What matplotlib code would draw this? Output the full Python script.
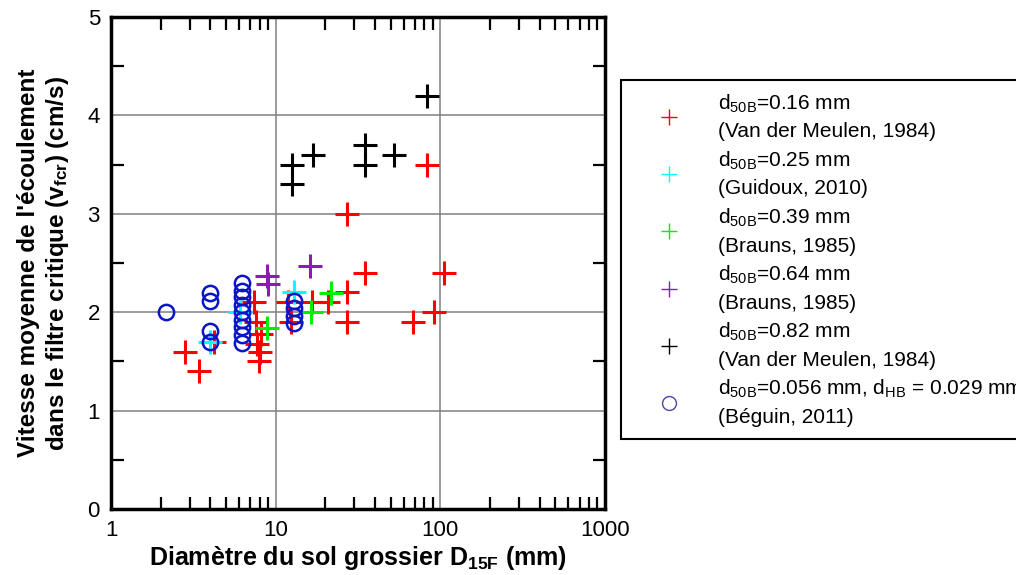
import matplotlib
matplotlib.use('Agg')
import matplotlib.pyplot as plt
from matplotlib.ticker import LogLocator, MultipleLocator, FixedLocator

plt.rcParams['font.family'] = ['Liberation Sans', 'DejaVu Sans']
plt.rcParams['mathtext.fontset'] = 'custom'
plt.rcParams['mathtext.rm'] = 'Liberation Sans'
plt.rcParams['mathtext.it'] = 'Liberation Sans:italic'
plt.rcParams['mathtext.bf'] = 'Liberation Sans:bold'

##############################################
# data
##############################################
red_x = [2.8, 3.4, 4.2, 7.4, 7.6, 8.1, 7.7, 8.0, 7.9, 11.8, 12.3, 16.7, 20.7,
         27, 27, 27, 34.9, 68, 83, 92, 105]
red_y = [1.6, 1.4, 1.7, 2.1, 1.9, 1.78, 1.68, 1.6, 1.5, 2.1, 1.9, 2.1, 2.1,
         3.0, 2.2, 1.9, 2.4, 1.9, 3.5, 2.0, 2.4]
cyan_x = [4.0, 6.1, 12.9]
cyan_y = [1.7, 2.0, 2.2]
green_x = [8.9, 16.4, 21.6]
green_y = [1.84, 2.0, 2.19]
purple_x = [8.9, 9.0, 16.1]
purple_y = [2.37, 2.29, 2.47]
black_x = [12.6, 12.6, 16.9, 34.9, 34.9, 52, 83]
black_y = [3.5, 3.3, 3.6, 3.7, 3.5, 3.6, 4.2]
blue_x = [2.15, 4, 4, 4, 4, 6.2, 6.2, 6.2, 6.2, 6.2, 6.2, 6.2, 6.2, 6.2,
          12.9, 12.9, 12.9, 12.9]
blue_y = [2.0, 2.19, 2.11, 1.81, 1.70, 2.30, 2.22, 2.15, 2.07, 2.0, 1.92,
          1.85, 1.77, 1.69, 2.11, 2.04, 1.96, 1.89]

labels = [r'd$_{\mathrm{50B}}$=0.16 mm' + '\n(Van der Meulen, 1984)',
          r'd$_{\mathrm{50B}}$=0.25 mm' + '\n(Guidoux, 2010)',
          r'd$_{\mathrm{50B}}$=0.39 mm' + '\n(Brauns, 1985)',
          r'd$_{\mathrm{50B}}$=0.64 mm' + '\n(Brauns, 1985)',
          r'd$_{\mathrm{50B}}$=0.82 mm' + '\n(Van der Meulen, 1984)',
          r'd$_{\mathrm{50B}}$=0.056 mm, d$_{\mathrm{HB}}$ = 0.029 mm' + '\n(Béguin, 2011)']

##############################################
# figure
##############################################
fig = plt.figure(figsize=(10.16, 5.75), dpi=100)
ax = fig.add_axes([0.1093, 0.1148, 0.4862, 0.8557])

pk = dict(linestyle='none', marker='+', markersize=17, markeredgewidth=2.2)
ax.plot(red_x, red_y, color='#FF0000', label=labels[0], **pk)
ax.plot(cyan_x, cyan_y, color='#00FFFF', label=labels[1], **pk)
ax.plot(green_x, green_y, color='#00EE00', label=labels[2], **pk)
ax.plot(purple_x, purple_y, color='#8C1AB4', label=labels[3], **pk)
ax.plot(black_x, black_y, color='black', label=labels[4], **pk)
ax.plot(blue_x, blue_y, linestyle='none', marker='o', markersize=11,
        markerfacecolor='none', markeredgecolor='#0A14C8', markeredgewidth=1.8,
        label=labels[5])

ax.set_xscale('log')
ax.set_xlim(1, 1000)
ax.set_ylim(0, 5)
ax.xaxis.set_major_locator(FixedLocator([1, 10, 100, 1000]))
ax.xaxis.set_major_formatter(matplotlib.ticker.FixedFormatter(['1', '10', '100', '1000']))
ax.xaxis.set_minor_locator(LogLocator(base=10, subs=range(2, 10)))
ax.xaxis.set_minor_formatter(matplotlib.ticker.NullFormatter())
ax.yaxis.set_major_locator(MultipleLocator(1))
ax.yaxis.set_minor_locator(FixedLocator([0.5, 1.5, 2.5, 3.5, 4.5]))

ax.grid(True, which='major', color='#808080', linewidth=1.1)
ax.set_axisbelow(True)
ax.tick_params(which='major', length=0, labelsize=16, pad=8)
ax.tick_params(which='minor', direction='in', length=9, width=1.6,
               top=True, right=True)
for s in ax.spines.values():
    s.set_linewidth(2.5)

ax.set_xlabel(r'Diamètre du sol grossier D$_{\mathbf{15F}}$ (mm)',
              fontsize=18, fontweight='bold', labelpad=2)
ax.set_ylabel("Vitesse moyenne de l'écoulement\n" +
              r'dans le filtre critique (v$_{\mathbf{fcr}}$) (cm/s)',
              fontsize=17.5, fontweight='bold', labelpad=12)

lg = ax.legend(loc='upper left', bbox_to_anchor=(621 / 1016, 1 - 80 / 575),
               bbox_transform=fig.transFigure, borderaxespad=0,
               fontsize=15, markerscale=0.65, frameon=True, fancybox=False,
               edgecolor='black', framealpha=1, borderpad=0.6,
               handlelength=3.4, handletextpad=0.65, labelspacing=0.4)
lg.get_frame().set_linewidth(1.5)
for t in lg.get_texts():
    t.set_linespacing(1.5)
for h in lg.legend_handles:
    h.set_markeredgewidth(1.0)
lg.legend_handles[5].set_markeredgecolor('#4848A0')
lg.legend_handles[5].set_markersize(10)

fig.savefig('out.png', dpi=100)
